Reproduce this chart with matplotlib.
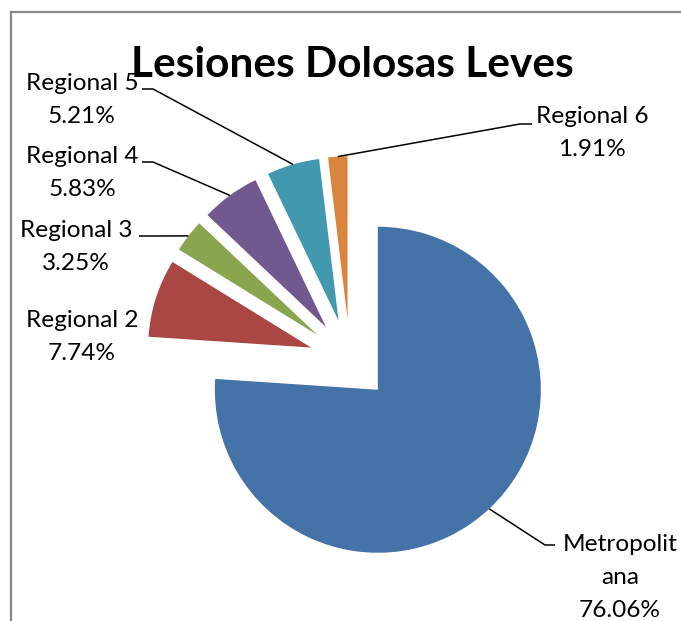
import matplotlib
matplotlib.use("Agg")
import matplotlib.pyplot as plt
from matplotlib.lines import Line2D
import numpy as np

plt.rcParams["font.family"] = ["Lato", "DejaVu Sans"]

categories = ["Metropolitana", "Regional 2", "Regional 3",
              "Regional 4", "Regional 5", "Regional 6"]
shares = [76.06, 7.74, 3.25, 5.83, 5.21, 1.91]
colors = ["#4572A7", "#AA4643", "#89A54E", "#71588F", "#4198AF", "#DB843D"]
title = "Lesiones Dolosas Leves"

# layout in pixels (figure is 681 x 621)
W, H = 681, 621
cx, cy, R = 350, 360, 163
explode = 0.25


def px(x, y):
    return (x - cx) / R, (cy - y) / R


# label text centre x, first baseline y, elbow of the leader line, text-side end
label_layout = {
    "Metropolitana": (620, 551, (545, 545), (555, 545)),
    "Regional 2": (82, 327, None, None),
    "Regional 3": (76, 237, (153, 236), (139, 236)),
    "Regional 4": (82, 163, (153, 162), (142, 162)),
    "Regional 5": (82, 90, (153, 89), (142, 89)),
    "Regional 6": (592, 123, (520, 124), (532, 124)),
}
wrapped = {"Metropolitana": "Metropolit\nana"}
pitch = 33

fig = plt.figure(figsize=(W / 100, H / 100), dpi=100)
ax = fig.add_axes([0, 0, 1, 1])
wedges, _ = ax.pie(shares, colors=colors, startangle=90, counterclock=False,
                   explode=[explode] * len(shares),
                   wedgeprops={"linewidth": 0})
ax.set_xlim(px(0, 0)[0], px(W, 0)[0])
ax.set_ylim(px(0, H)[1], px(0, 0)[1])
ax.set_aspect("equal")
ax.axis("off")

for w, name, val in zip(wedges, categories, shares):
    mid = np.deg2rad((w.theta1 + w.theta2) / 2)
    ex, ey = w.center
    ax_, ay_ = ex + w.r * np.cos(mid), ey + w.r * np.sin(mid)
    tx, ty, elbow, end = label_layout[name]
    lines = wrapped.get(name, name).split("\n") + [f"{val:.2f}%"]
    for i, line in enumerate(lines):
        x, y = px(tx, ty + i * pitch)
        ax.text(x, y, line, ha="center", va="baseline", fontsize=17.6,
                color="black")
    if elbow is not None:
        e1 = px(*elbow)
        e2 = px(*end)
        ax.plot([ax_, e1[0], e2[0]], [ay_, e1[1], e2[1]], color="black",
                lw=1.1, solid_capstyle="butt")

tx, ty = px(352, 77)
ax.text(tx, ty, title, ha="center", va="baseline", fontsize=30.5,
        fontweight="bold", color="black")

# chart area border (only top and left edges visible)
border = "#898989"
fig.add_artist(Line2D([11 / W, 1], [1 - 12 / H, 1 - 12 / H], color=border,
                      lw=1.6, transform=fig.transFigure))
fig.add_artist(Line2D([11 / W, 11 / W], [0, 1 - 12 / H], color=border,
                      lw=1.6, transform=fig.transFigure))

fig.savefig("out.png", dpi=100)
